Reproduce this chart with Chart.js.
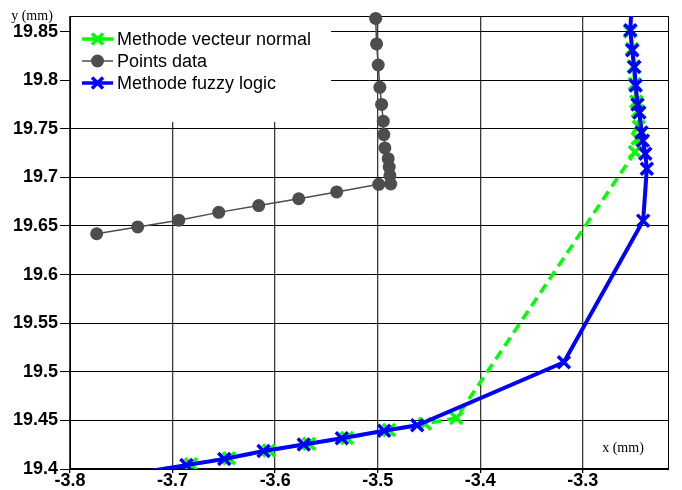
<!DOCTYPE html>
<html>
<head>
<meta charset="utf-8">
<script src="https://cdn.jsdelivr.net/npm/chart.js@4.4.1/dist/chart.umd.min.js"></script>
<style>
  html, body { margin: 0; padding: 0; background: #fff; }
</style>
</head>
<body>
<canvas id="chart" width="682" height="490"></canvas>
<script>
// Tick values of both axes
const xTicks = [-3.8, -3.7, -3.6, -3.5, -3.4, -3.3];
const yTicks = [19.4, 19.45, 19.5, 19.55, 19.6, 19.65, 19.7, 19.75, 19.8, 19.85];

const seriesNames = ['Methode vecteur normal', 'Points data', 'Methode fuzzy logic'];

// Points data (grey circles)
const pointsX = [-3.774, -3.734, -3.694, -3.655, -3.616, -3.577, -3.540, -3.499, -3.4873,
                 -3.4881, -3.4888, -3.4898, -3.4930, -3.4940, -3.4946, -3.4962, -3.4979,
                 -3.4995, -3.5011, -3.5020];
const pointsY = [19.642, 19.649, 19.656, 19.664, 19.671, 19.678, 19.685, 19.6928, 19.6932,
                 19.7017, 19.7106, 19.7192, 19.7303, 19.7440, 19.7578, 19.7750, 19.7926,
                 19.8156, 19.8373, 19.8635];

// Methode vecteur normal (green, dashed)
const normalX = [-3.755, -3.682, -3.645, -3.606, -3.567, -3.530, -3.489, -3.454, -3.4235,
                 -3.2493, -3.2465, -3.2455, -3.2465, -3.2480, -3.2495, -3.2505, -3.2522,
                 -3.2540, -3.2528];
const normalY = [19.392, 19.405, 19.411, 19.419, 19.426, 19.432, 19.440, 19.4465, 19.4524,
                 19.726, 19.740, 19.752, 19.768, 19.778, 19.796, 19.814, 19.832,
                 19.850, 19.878];

// Methode fuzzy logic (blue)
const fuzzyX = [-3.760, -3.6865, -3.6496, -3.6113, -3.5721, -3.535, -3.4937, -3.4615, -3.3185,
                -3.2412, -3.2376, -3.2391, -3.2415, -3.2428, -3.2449, -3.2467, -3.2485,
                -3.2498, -3.2518, -3.2537, -3.2525];
const fuzzyY = [19.3915, 19.404, 19.4103, 19.4186, 19.4251, 19.4317, 19.4393, 19.445, 19.5098,
                19.6555, 19.7089, 19.7244, 19.7378, 19.7461, 19.7667, 19.775, 19.7946,
                19.8136, 19.8308, 19.8514, 19.878];

function pairs(xs, ys) {
  return xs.map(function (x, i) { return { x: x, y: ys[i] }; });
}

const GREEN = '#00ff00';
const GREY = '#4d4d4d';
const BLUE = '#0000ff';
const SANS = '"Liberation Sans", Arial, Helvetica, sans-serif';
const SERIF = '"Liberation Serif", "Times New Roman", serif';

function drawCross(ctx, x, y, r) {
  ctx.beginPath();
  ctx.moveTo(x - r, y - r); ctx.lineTo(x + r, y + r);
  ctx.moveTo(x + r, y - r); ctx.lineTo(x - r, y + r);
  ctx.stroke();
}

// White legend box, frame and axis names, drawn under the data like the original figure
const frameAndLegend = {
  id: 'frameAndLegend',
  beforeDatasetsDraw: function (chart) {
    const ctx = chart.ctx;
    const a = chart.chartArea;
    ctx.save();

    ctx.fillStyle = '#fff';
    ctx.fillRect(a.left + 1, a.top + 1, 260, 105);

    const rows = [
      { color: GREEN, marker: 'cross', width: 3.5 },
      { color: GREY, marker: 'circle', width: 1.5 },
      { color: BLUE, marker: 'cross', width: 3.5 }
    ];
    ctx.font = '18px ' + SANS;
    ctx.textBaseline = 'middle';
    rows.forEach(function (r, i) {
      const y = a.top + 23 + i * 22;
      ctx.strokeStyle = r.color;
      ctx.lineWidth = r.width;
      ctx.beginPath();
      ctx.moveTo(a.left + 12, y);
      ctx.lineTo(a.left + 43, y);
      ctx.stroke();
      if (r.marker === 'cross') {
        ctx.lineWidth = 3.5;
        drawCross(ctx, a.left + 27.5, y, 5.5);
      } else {
        ctx.fillStyle = r.color;
        ctx.beginPath();
        ctx.arc(a.left + 27.5, y, 6.5, 0, Math.PI * 2);
        ctx.fill();
      }
      ctx.fillStyle = '#000';
      ctx.fillText(seriesNames[i], a.left + 47, y + 1);
    });

    ctx.strokeStyle = '#000';
    ctx.lineWidth = 1;
    ctx.strokeRect(a.left + 0.5, a.top + 0.5, a.right - a.left - 1, a.bottom - a.top - 1);

    ctx.fillStyle = '#000';
    ctx.font = '14px ' + SERIF;
    ctx.textAlign = 'center';
    ctx.fillText('x (mm)', 623, 448);
    ctx.fillText('y (mm)', 32, 16);
    ctx.restore();
  }
};

const ctx = document.getElementById('chart');
const chart = new Chart(ctx, {
  type: 'scatter',
  data: {
    datasets: [
      {
        label: seriesNames[0],
        data: pairs(normalX, normalY),
        showLine: true,
        borderColor: GREEN,
        backgroundColor: GREEN,
        borderWidth: 3.5,
        borderDash: [10, 6],
        pointStyle: 'crossRot',
        pointRadius: 8.5,
        pointBorderWidth: 3.5,
        pointBorderColor: GREEN,
        clip: 0,
        order: 2
      },
      {
        label: seriesNames[1],
        data: pairs(pointsX, pointsY),
        showLine: true,
        borderColor: GREY,
        backgroundColor: GREY,
        borderWidth: 1.5,
        pointStyle: 'circle',
        pointRadius: 6.5,
        pointBorderWidth: 0,
        clip: false,
        order: 1
      },
      {
        label: seriesNames[2],
        data: pairs(fuzzyX, fuzzyY),
        showLine: true,
        borderColor: BLUE,
        backgroundColor: BLUE,
        borderWidth: 4,
        pointStyle: 'crossRot',
        pointRadius: 8.5,
        pointBorderWidth: 3.5,
        pointBorderColor: BLUE,
        clip: 0,
        order: 0
      }
    ]
  },
  options: {
    responsive: false,
    animation: false,
    events: [],
    layout: { padding: { top: 16, right: 13, left: 0, bottom: 0 } },
    plugins: {
      legend: { display: false },
      tooltip: { enabled: false },
      title: { display: false }
    },
    scales: {
      x: {
        type: 'linear',
        min: -3.8,
        max: -3.216,
        afterBuildTicks: function (scale) {
          scale.ticks = xTicks.map(function (v) { return { value: v }; });
        },
        afterFit: function (scale) { scale.height = 21; },
        border: { display: false },
        grid: { color: '#3a3a3a', lineWidth: 1.3, tickLength: 4, tickColor: '#000' },
        ticks: {
          padding: -3,
          color: '#000',
          font: { family: SANS, size: 18, weight: 'bold' },
          maxRotation: 0,
          callback: function (v) { return String(+(+v).toFixed(2)); }
        }
      },
      y: {
        type: 'linear',
        min: 19.4,
        max: 19.866,
        afterBuildTicks: function (scale) {
          scale.ticks = yTicks.map(function (v) { return { value: v }; });
        },
        afterFit: function (scale) { scale.width = 70; },
        border: { display: false },
        grid: { color: '#000', lineWidth: 1, tickLength: 10, tickColor: '#000' },
        ticks: {
          padding: 2,
          color: '#000',
          font: { family: SANS, size: 18, weight: 'bold' },
          callback: function (v) { return String(+(+v).toFixed(2)); }
        }
      }
    }
  },
  plugins: [frameAndLegend]
});
</script>
</body>
</html>
